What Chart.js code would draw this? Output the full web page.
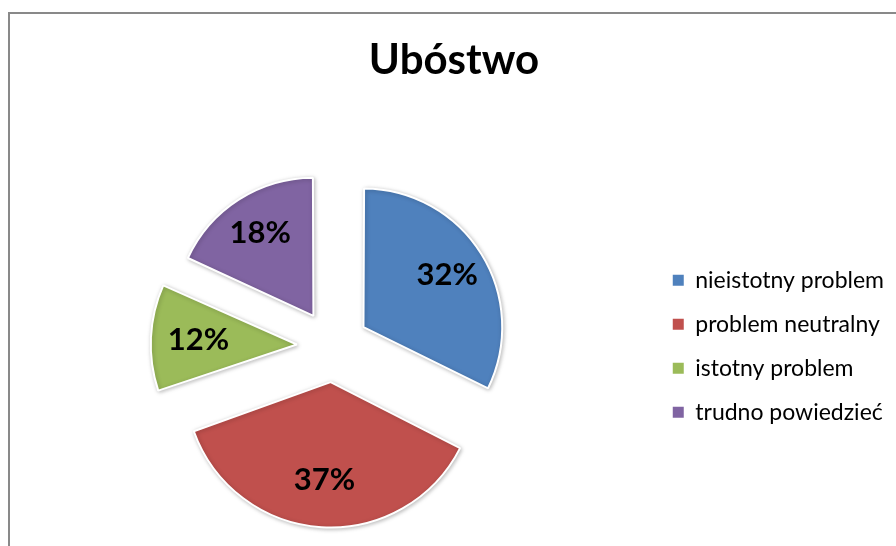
<!DOCTYPE html>
<html>
<head>
<meta charset="utf-8">
<script src="https://cdn.jsdelivr.net/npm/chart.js@4"></script>
<style>
  html, body { margin: 0; padding: 0; background: #fff; overflow: hidden; }
  #wrap { position: relative; width: 896px; height: 546px; overflow: hidden; }
  #frame {
    position: absolute; left: 8px; top: 12px; width: 1000px; height: 600px;
    border-top: 2px solid #898989; border-left: 2px solid #898989;
    box-sizing: border-box; pointer-events: none;
  }
  canvas { position: absolute; left: 0; top: 0; }
</style>
</head>
<body>
<div id="wrap">
  <canvas id="chart" width="920" height="546"></canvas>
  <div id="frame"></div>
</div>
<script>
// dane wykresu
const title = "Ubóstwo";
const categories = ["nieistotny problem", "problem neutralny", "istotny problem", "trudno powiedzieć"];
const values = [32, 37, 12, 18];
const colors = ["#4F81BD", "#C0504D", "#9BBB59", "#8064A2"];

// etykiety procentowe w środku wycinków
const percentLabels = {
  id: "percentLabels",
  afterDatasetsDraw(chart) {
    const ctx = chart.ctx;
    const meta = chart.getDatasetMeta(0);
    ctx.save();
    ctx.font = "bold 31px Lato";
    ctx.fillStyle = "#000";
    ctx.textAlign = "center";
    ctx.textBaseline = "middle";
    meta.data.forEach((arc, i) => {
      const mid = (arc.startAngle + arc.endAngle) / 2;
      const shift = arc.options.offset / 4; // Chart.js przesuwa wycinek o offset/4
      const dist = shift + arc.outerRadius * 0.73;
      const x = arc.x + Math.cos(mid) * dist;
      const y = arc.y + Math.sin(mid) * dist;
      ctx.fillText(values[i] + "%", x, y);
    });
    ctx.restore();
  }
};

// delikatny cień pod wycinkami
const sliceShadow = {
  id: "sliceShadow",
  beforeDatasetsDraw(chart) {
    const ctx = chart.ctx;
    ctx.save();
    ctx.shadowColor = "rgba(0,0,0,0.25)";
    ctx.shadowBlur = 4;
    ctx.shadowOffsetX = 1;
    ctx.shadowOffsetY = 1;
  },
  afterDatasetsDraw(chart) {
    chart.ctx.restore();
  }
};

const ctx = document.getElementById("chart").getContext("2d");
new Chart(ctx, {
  type: "pie",
  data: {
    labels: categories,
    datasets: [{
      data: values,
      backgroundColor: colors,
      borderColor: "#ffffff",
      borderWidth: 2,
      offset: 144,
      radius: 135
    }]
  },
  options: {
    responsive: false,
    animation: false,
    events: [],
    layout: { padding: { left: 14, right: 26, top: 0, bottom: 3 } },
    plugins: {
      title: {
        display: true,
        text: title,
        color: "#000",
        font: { family: "Lato", size: 42, weight: "bold" },
        padding: { top: 35, bottom: 64 }
      },
      legend: {
        position: "right",
        fullSize: false,
        labels: {
          color: "#000",
          font: { family: "Lato", size: 23 },
          boxWidth: 11,
          boxHeight: 11,
          padding: 21,
          generateLabels(chart) {
            return Chart.overrides.pie.plugins.legend.labels.generateLabels(chart).map((item) => {
              item.strokeStyle = item.fillStyle;
              item.lineWidth = 0;
              return item;
            });
          }
        }
      },
      tooltip: { enabled: false }
    }
  },
  plugins: [sliceShadow, percentLabels]
});
</script>
</body>
</html>
